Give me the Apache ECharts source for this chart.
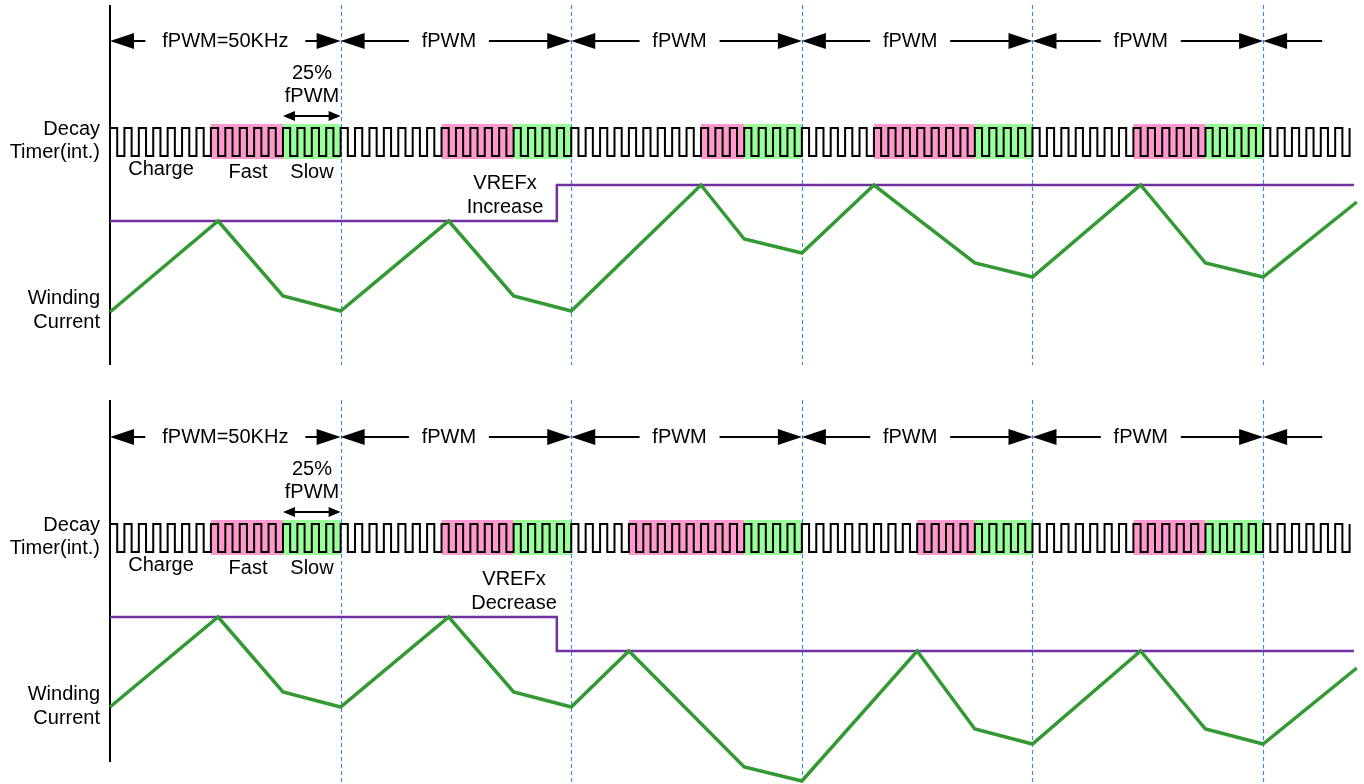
<!DOCTYPE html>
<html><head><meta charset="utf-8">
<script src="https://cdn.jsdelivr.net/npm/echarts@6/dist/echarts.min.js"></script>
<style>html,body{margin:0;padding:0;background:#fff}#c{width:1364px;height:784px}</style>
</head><body><div id="c"></div>
<script>
// ---------- data (time in decay-timer clock cycles; 16 cycles per fPWM period) ----------
const periodStarts = [0, 16, 32, 48, 64];
const periodLabels = ['fPWM=50KHz', 'fPWM', 'fPWM', 'fPWM', 'fPWM'];
const cyclesPerPeriod = 16;
const tailCycles = 6;
const tailArrowEnd = 84.1;
// decay timer phases (cycles) per period
const topCharge = [7, 7, 9, 5, 7];
const topFast   = [5, 5, 3, 7, 5];
const topSlow   = [4, 4, 4, 4, 4];
const botCharge = [7, 7, 4, 8, 7];
const botFast   = [5, 5, 8, 4, 5];
const botSlow   = [4, 4, 4, 4, 4];
const clockLow = 232, clockHigh = 260;
// winding current & VREFx (relative units)
const topCurrentT = [0, 7.5, 12, 16, 23.5, 28, 32, 41, 44, 48, 53, 60, 64, 71.5, 76, 80, 86.5];
const topCurrentV = [76, 167, 92, 77, 167, 92, 77, 203, 149, 135, 203, 125, 111, 203, 125, 111, 186];
const topVrefT = [0, 31, 31, 86.3];
const topVrefV = [167, 167, 203, 203];
const botCurrentT = [0, 7.5, 12, 16, 23.5, 28, 32, 36, 44, 48, 56, 60, 64, 71.5, 76, 80, 86.5];
const botCurrentV = [77, 167, 92, 77, 167, 92, 77, 133, 17, 3, 133, 55, 40, 133, 55, 40, 116];
const botVrefT = [0, 31, 31, 86.3];
const botVrefV = [167, 167, 133, 133];

// ---------- styling ----------
const FONT = '20px "Liberation Sans", Arial, sans-serif';
const PINK = '#FF99CC', LGREEN = '#99FF99';
const CUR = '#339933', VREF = '#7030A0', DASH = '#2F86FF';
const AW = 24, AH = 8;

function zip(a, b) { return a.map((v, i) => [v, b[i]]); }
function clockPoints() {
  const n = periodStarts.length * cyclesPerPeriod + tailCycles;
  const pts = [];
  for (let c = 0; c < n; c++) {
    pts.push([c, clockLow], [c, clockHigh], [c + 0.5, clockHigh], [c + 0.5, clockLow]);
  }
  pts.push([n, clockLow], [n, clockHigh]);
  return pts;
}
function tri(tip, dir, w, h) {
  const x = tip[0], y = tip[1], b = x - dir * w;
  return { type: 'polygon', shape: { points: [[x, y], [b, y - h], [b, y + h]] }, style: { fill: '#000' } };
}
function seg(a, b, w, color, dash) {
  return { type: 'line', shape: { x1: a[0], y1: a[1], x2: b[0], y2: b[1] },
    style: { stroke: color || '#000', lineWidth: w || 2, lineDash: dash || null, fill: null } };
}
function txt(t, x, y, align) {
  return { type: 'text', style: { text: t, x: x, y: y, textAlign: align || 'center', textVerticalAlign: 'middle', font: FONT, fill: '#000' } };
}

function bgRender(charge, fast, slow, axisTop, axisBot, dashTop, dashBot) {
  return function (params, api) {
    const ch = [];
    periodStarts.forEach((p, i) => {
      const s = p + charge[i], f = s + fast[i], e = f + slow[i];
      const a = api.coord([s, 264]), b = api.coord([f, 229]), c = api.coord([e, 229]);
      ch.push({ type: 'rect', shape: { x: a[0], y: a[1], width: b[0] - a[0], height: b[1] - a[1] }, style: { fill: PINK } });
      ch.push({ type: 'rect', shape: { x: b[0], y: a[1], width: c[0] - b[0], height: b[1] - a[1] }, style: { fill: LGREEN } });
    });
    periodStarts.forEach((p) => {
      const x = p + cyclesPerPeriod;
      const a = api.coord([x, dashTop]), b = api.coord([x, dashBot]);
      ch.push(seg([Math.round(a[0]) + 0.5, a[1]], [Math.round(b[0]) + 0.5, b[1]], 1.1, DASH, [4, 3]));
    });
    const a = api.coord([0, axisTop]), b = api.coord([0, axisBot]);
    ch.push(seg(a, b, 2, '#000'));
    return { type: 'group', children: ch };
  };
}

function fgRender(charge, fast) {
  return function (params, api) {
    const ch = [];
    const rowV = 347;
    periodStarts.forEach((s, i) => {
      const a = api.coord([s, rowV]), b = api.coord([s + cyclesPerPeriod, rowV]);
      const first = i === 0;
      const mid = (a[0] + b[0]) / 2 + (first ? 0 : -7);
      const half = first ? 80 : 40;
      ch.push(tri(a, -1, AW, AH), tri(b, 1, AW, AH));
      ch.push(seg([a[0] + AW - 1, a[1]], [mid - half, a[1]], 2));
      ch.push(seg([mid + half, a[1]], [b[0] - AW + 1, a[1]], 2));
      ch.push(txt(periodLabels[i], mid, a[1]));
    });
    const last = periodStarts[periodStarts.length - 1] + cyclesPerPeriod;
    const t0 = api.coord([last, rowV]), t1 = api.coord([tailArrowEnd, rowV]);
    ch.push(tri(t0, -1, AW, AH), seg([t0[0] + AW - 1, t0[1]], t1, 2));
    // 25% fPWM double arrow over slow phase of first period
    const s0 = api.coord([periodStarts[0] + charge[0] + fast[0], 272]);
    const s1 = api.coord([periodStarts[0] + cyclesPerPeriod, 272]);
    ch.push(tri(s0, -1, 12, 5), tri(s1, 1, 12, 5), seg([s0[0] + 10, s0[1]], [s1[0] - 10, s1[1]], 2));
    return { type: 'group', children: ch };
  };
}

function labelsFor(off, vrefWord, vx) {
  return [
    txt('Decay', 100, 129 + off, 'right'),
    txt('Timer(int.)', 100, 152 + off, 'right'),
    txt('Charge', 161, 169 + off),
    txt('Fast', 248, 172 + off),
    txt('Slow', 312, 172 + off),
    txt('25%', 312, 73 + off),
    txt('fPWM', 312, 96 + off),
    txt('Winding', 100, 298 + off, 'right'),
    txt('Current', 100, 322 + off, 'right'),
    txt('VREFx', vx, 183 + off),
    txt(vrefWord, vx, 207 + off)
  ];
}

const clock = clockPoints();
const chart = echarts.init(document.getElementById('c'), null, { renderer: 'canvas' });
const xAx = (i) => ({ type: 'value', gridIndex: i, min: 0, max: 87, show: false });
const yAx = (i) => ({ type: 'value', gridIndex: i, min: 0, max: 388, show: false });
function lineS(i, data, color, w, z) {
  return { type: 'line', xAxisIndex: i, yAxisIndex: i, data: data, symbol: 'none', silent: true,
    lineStyle: { color: color, width: w, join: 'miter' }, z: z, clip: false, animation: false };
}
chart.setOption({
  animation: false,
  grid: [
    { left: 110, right: 0, top: 0, height: 388 },
    { left: 110, right: 0, top: 396, height: 388 }
  ],
  xAxis: [xAx(0), xAx(1)],
  yAxis: [yAx(0), yAx(1)],
  graphic: { elements: labelsFor(0, 'Increase', 505).concat(labelsFor(396, 'Decrease', 514)).map(e => Object.assign(e, { silent: true })) },
  series: [
    { type: 'custom', xAxisIndex: 0, yAxisIndex: 0, data: [[0, 0]], z: 1, clip: false, silent: true,
      renderItem: bgRender(topCharge, topFast, topSlow, 383, 23, 383, 23) },
    { type: 'custom', xAxisIndex: 1, yAxisIndex: 1, data: [[0, 0]], z: 1, clip: false, silent: true,
      renderItem: bgRender(botCharge, botFast, botSlow, 384, 22, 384, 0) },
    lineS(0, clock, '#000', 2, 3),
    lineS(1, clock, '#000', 2, 3),
    lineS(0, zip(topVrefT, topVrefV), VREF, 2.5, 4),
    lineS(1, zip(botVrefT, botVrefV), VREF, 2.5, 4),
    lineS(0, zip(topCurrentT, topCurrentV), CUR, 3.5, 5),
    lineS(1, zip(botCurrentT, botCurrentV), CUR, 3.5, 5),
    { type: 'custom', xAxisIndex: 0, yAxisIndex: 0, data: [[0, 0]], z: 6, clip: false, silent: true,
      renderItem: fgRender(topCharge, topFast) },
    { type: 'custom', xAxisIndex: 1, yAxisIndex: 1, data: [[0, 0]], z: 6, clip: false, silent: true,
      renderItem: fgRender(botCharge, botFast) }
  ]
});
</script></body></html>
